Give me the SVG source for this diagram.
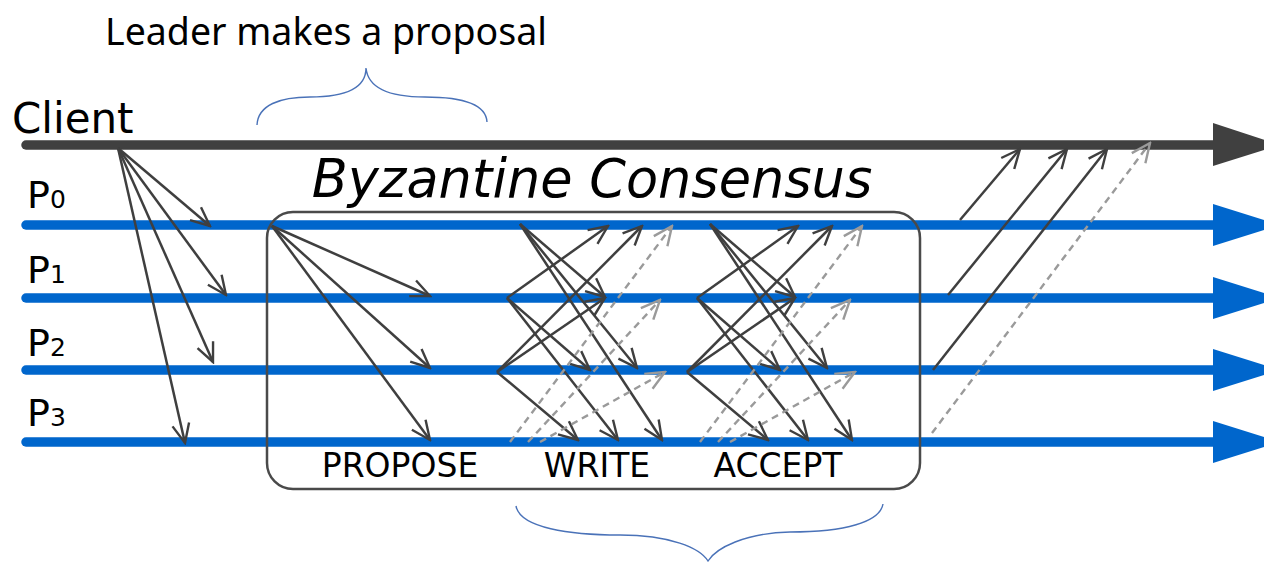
<svg xmlns="http://www.w3.org/2000/svg" width="1264" height="562" viewBox="0 0 1264 562">
  <style>
    .lbl { font-family: "DejaVu Sans", Verdana, sans-serif; fill: #000; }
    .note { font-family: "Noto Sans", "Open Sans", sans-serif; fill: #000; }
    .timeline { fill: none; stroke-width: 9.5; stroke-linecap: round; }
    .msg { fill: none; stroke: #3f3f3f; stroke-width: 2.5; marker-end: url(#open); }
    .faulty { fill: none; stroke: #9a9a9a; stroke-width: 2.4; stroke-dasharray: 7 5; marker-end: url(#openGray); }
    .brace { fill: none; stroke: #4a72b8; stroke-width: 1.4; }
  </style>
  <defs>
    <marker id="open" markerUnits="userSpaceOnUse" viewBox="-22 -11 24 22" refX="0" refY="0" markerWidth="24" markerHeight="22" orient="auto">
      <path d="M-19,-8.5 L0,0 L-19,8.5" fill="none" stroke="#3f3f3f" stroke-width="2.4"/>
    </marker>
    <marker id="openGray" markerUnits="userSpaceOnUse" viewBox="-22 -11 24 22" refX="0" refY="0" markerWidth="24" markerHeight="22" orient="auto">
      <path d="M-19,-8.5 L0,0 L-19,8.5" fill="none" stroke="#9a9a9a" stroke-width="2.4"/>
    </marker>
  </defs>
  <rect width="1264" height="562" fill="#fff"/>

  <!-- timelines -->
  <g id="client">
    <line class="timeline" x1="26" y1="145" x2="1220" y2="145" stroke="#404040"/>
    <polygon points="1213,123 1280,145 1213,166" fill="#404040"/>
    <text class="lbl" x="12" y="133" font-size="42">Client</text>
  </g>
  <g id="p0">
    <line class="timeline" x1="26" y1="225" x2="1220" y2="225" stroke="#0066cc"/>
    <polygon points="1213,204 1280,225 1213,246" fill="#0066cc"/>
    <text class="lbl" x="27" y="208" font-size="38">P<tspan font-size="25">0</tspan></text>
  </g>
  <g id="p1">
    <line class="timeline" x1="26" y1="298" x2="1220" y2="298" stroke="#0066cc"/>
    <polygon points="1213,277 1280,298 1213,319" fill="#0066cc"/>
    <text class="lbl" x="27" y="283" font-size="38">P<tspan font-size="25">1</tspan></text>
  </g>
  <g id="p2">
    <line class="timeline" x1="26" y1="370" x2="1220" y2="370" stroke="#0066cc"/>
    <polygon points="1213,349 1280,370 1213,391" fill="#0066cc"/>
    <text class="lbl" x="27" y="356" font-size="38">P<tspan font-size="25">2</tspan></text>
  </g>
  <g id="p3">
    <line class="timeline" x1="26" y1="442" x2="1220" y2="442" stroke="#0066cc"/>
    <polygon points="1213,421 1280,442 1213,463" fill="#0066cc"/>
    <text class="lbl" x="27" y="426" font-size="38">P<tspan font-size="25">3</tspan></text>
  </g>

  <!-- consensus box -->
  <g id="consensus">
    <rect x="267" y="212" width="653" height="277" rx="26" fill="none" stroke="#4a4a4a" stroke-width="2.5"/>
    <text class="lbl" x="592" y="197" font-size="52.5" font-style="italic" text-anchor="middle">Byzantine Consensus</text>
    <text class="lbl" x="400" y="477" font-size="33" text-anchor="middle">PROPOSE</text>
    <text class="lbl" x="597" y="477" font-size="33" text-anchor="middle">WRITE</text>
    <text class="lbl" x="778" y="477" font-size="33" text-anchor="middle">ACCEPT</text>
  </g>

  <!-- messages -->
  <g id="connectors">
    <!-- request -->
    <line class="msg" x1="118" y1="148" x2="210" y2="226"/>
    <line class="msg" x1="118" y1="148" x2="226" y2="295"/>
    <line class="msg" x1="118" y1="148" x2="213" y2="362"/>
    <line class="msg" x1="118" y1="148" x2="185" y2="443"/>
    <!-- propose -->
    <line class="msg" x1="272" y1="226" x2="430" y2="296"/>
    <line class="msg" x1="272" y1="226" x2="430" y2="368"/>
    <line class="msg" x1="272" y1="226" x2="430" y2="440"/>
    <!-- write -->
    <g id="write">
      <line class="msg" x1="520" y1="224" x2="605" y2="297"/>
      <line class="msg" x1="520" y1="224" x2="637" y2="368"/>
      <line class="msg" x1="520" y1="224" x2="662" y2="440"/>
      <line class="msg" x1="507" y1="298" x2="608" y2="226"/>
      <line class="msg" x1="507" y1="298" x2="590" y2="370"/>
      <line class="msg" x1="507" y1="298" x2="618" y2="440"/>
      <line class="msg" x1="497" y1="372" x2="642" y2="226"/>
      <line class="msg" x1="497" y1="372" x2="605" y2="298"/>
      <line class="msg" x1="497" y1="372" x2="578" y2="440"/>
      <line class="faulty" x1="510" y1="442" x2="672" y2="226"/>
      <line class="faulty" x1="528" y1="442" x2="660" y2="300"/>
      <line class="faulty" x1="540" y1="442" x2="665" y2="372"/>
    </g>
    <!-- accept -->
    <g id="accept" transform="translate(190,0)">
      <line class="msg" x1="520" y1="224" x2="605" y2="297"/>
      <line class="msg" x1="520" y1="224" x2="637" y2="368"/>
      <line class="msg" x1="520" y1="224" x2="662" y2="440"/>
      <line class="msg" x1="507" y1="298" x2="608" y2="226"/>
      <line class="msg" x1="507" y1="298" x2="590" y2="370"/>
      <line class="msg" x1="507" y1="298" x2="618" y2="440"/>
      <line class="msg" x1="497" y1="372" x2="642" y2="226"/>
      <line class="msg" x1="497" y1="372" x2="605" y2="298"/>
      <line class="msg" x1="497" y1="372" x2="578" y2="440"/>
      <line class="faulty" x1="510" y1="442" x2="672" y2="226"/>
      <line class="faulty" x1="528" y1="442" x2="660" y2="300"/>
      <line class="faulty" x1="540" y1="442" x2="665" y2="372"/>
    </g>
    <!-- reply -->
    <line class="msg" x1="960" y1="220" x2="1020" y2="149"/>
    <line class="msg" x1="948" y1="295" x2="1067" y2="149"/>
    <line class="msg" x1="933" y1="370" x2="1107" y2="149"/>
    <line class="faulty" x1="932" y1="433" x2="1150" y2="143"/>
  </g>

  <!-- annotations -->
  <g id="proposal-note">
    <text class="note" x="105" y="45" font-size="37.5">Leader makes a proposal</text>
    <path class="brace" d="M257,125 C258,105 280,97 310,97 C345,97 366,88 366,68 C368,88 390,97 425,97 C460,97 486,103 487,122"/>
  </g>
  <g id="consensus-brace">
    <path class="brace" d="M516,506 C520,528 570,535 620,535 C670,535 700,548 708,561 C716,548 745,533 790,532 C845,532 880,522 883,504"/>
  </g>
</svg>
